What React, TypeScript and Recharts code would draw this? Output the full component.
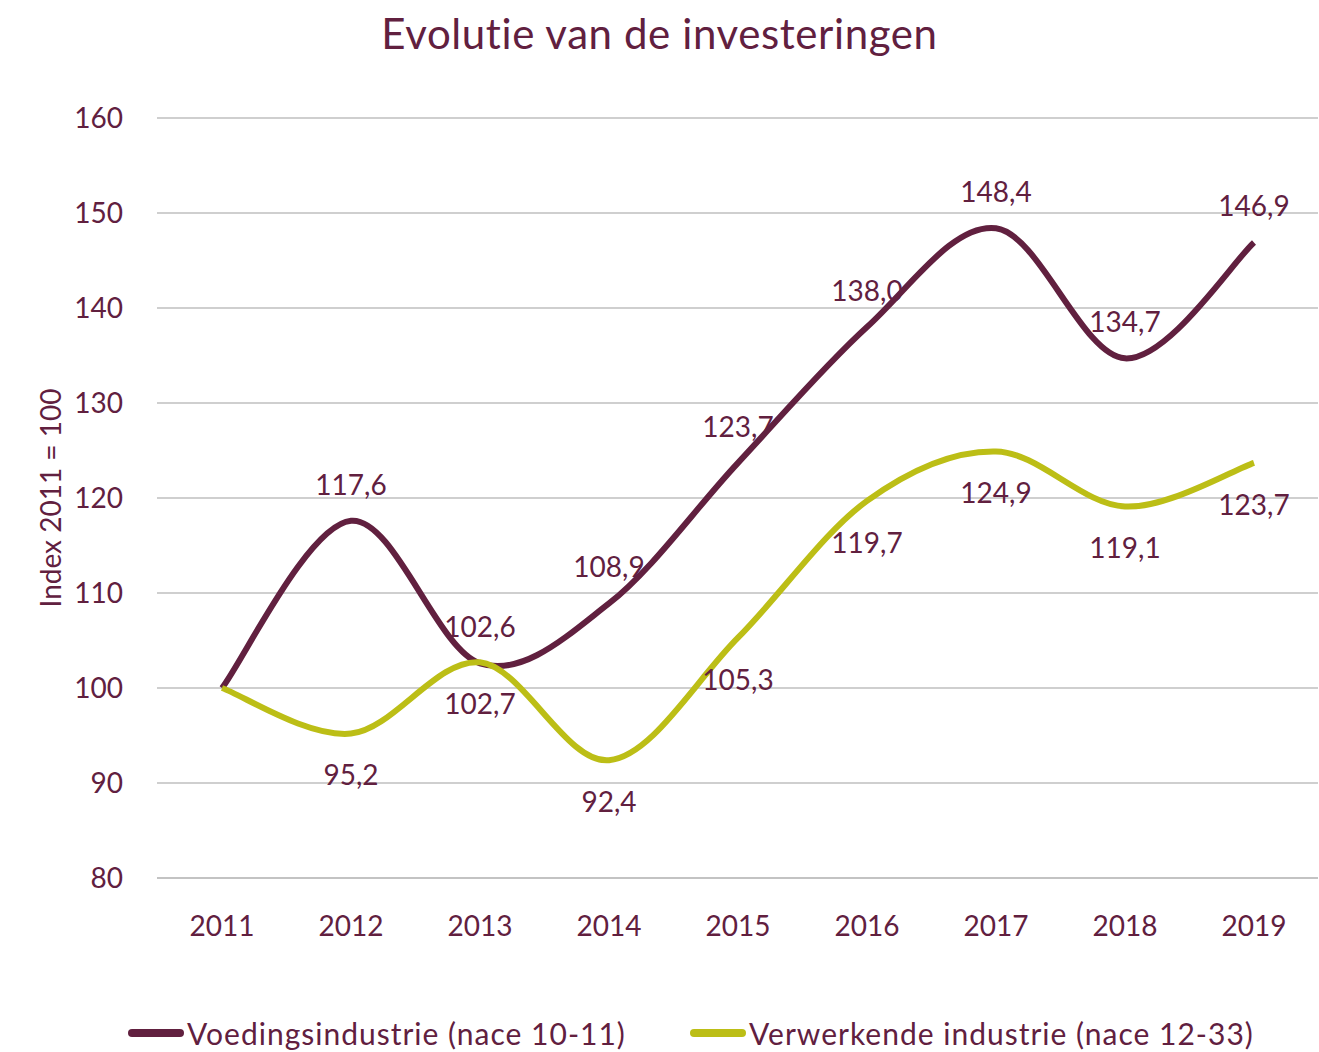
import { LineChart, Line, CartesianGrid, XAxis, YAxis, LabelList, Label } from 'recharts';

const years = ['2011', '2012', '2013', '2014', '2015', '2016', '2017', '2018', '2019'];
const voeding = [100, 117.6, 102.6, 108.9, 123.7, 138.0, 148.4, 134.7, 146.9];
const verwerkende = [100, 95.2, 102.7, 92.4, 105.3, 119.7, 124.9, 119.1, 123.7];
const yTicks = [80, 90, 100, 110, 120, 130, 140, 150, 160];

// the base year carries no data label
const data = years.map((year, i) => ({
  year,
  voeding: voeding[i],
  verwerkende: verwerkende[i],
  voedingLabel: i === 0 ? null : voeding[i],
  verwerkendeLabel: i === 0 ? null : verwerkende[i],
}));

const MAROON = '#61203f';
const LIME = '#bcbe16';
const FONT = 'Lato, "Open Sans", sans-serif';

// Excel-like smoothed line (Catmull-Rom through the points)
function smoothCurve(context: any) {
  let pts: number[][] = [];
  return {
    areaStart() {},
    areaEnd() {},
    lineStart() {
      pts = [];
    },
    point(x: number, y: number) {
      pts.push([+x, +y]);
    },
    lineEnd() {
      if (!pts.length) return;
      context.moveTo(pts[0][0], pts[0][1]);
      for (let i = 0; i < pts.length - 1; i++) {
        const p0 = pts[i - 1] || pts[i];
        const p1 = pts[i];
        const p2 = pts[i + 1];
        const p3 = pts[i + 2] || p2;
        context.bezierCurveTo(
          p1[0] + (p2[0] - p0[0]) / 6,
          p1[1] + (p2[1] - p0[1]) / 6,
          p2[0] - (p3[0] - p1[0]) / 6,
          p2[1] - (p3[1] - p1[1]) / 6,
          p2[0],
          p2[1]
        );
      }
    },
  };
}

const fmt = (v: any) => Number(v).toFixed(1).replace('.', ',');

const legendItems = [
  { label: 'Voedingsindustrie (nace 10-11)', color: MAROON, left: 128 },
  { label: 'Verwerkende industrie (nace 12-33)', color: LIME, left: 690 },
];

export default function App() {
  return (
    <div style={{ position: 'absolute', left: 0, top: 0, width: 1319, height: 1052, background: '#fff' }}>
      <div
        style={{
          position: 'absolute',
          top: 9,
          left: 0,
          width: 1319,
          textAlign: 'center',
          fontFamily: FONT,
          fontSize: 42,
          letterSpacing: 0.6,
          lineHeight: '48px',
          color: MAROON,
        }}
      >
        Evolutie van de investeringen
      </div>
      <LineChart width={1319} height={1052} data={data} margin={{ top: 118, right: 1, bottom: 144, left: 0 }}>
        <CartesianGrid vertical={false} stroke="#bfbfbf" strokeWidth={1.5} />
        <XAxis
          dataKey="year"
          height={30}
          padding={{ left: 65, right: 64 }}
          axisLine={{ stroke: '#bfbfbf', strokeWidth: 1.5 }}
          tickLine={false}
          tickSize={0}
          tickMargin={38}
          tick={{ fill: MAROON, fontSize: 28, fontFamily: FONT }}
          interval={0}
        />
        <YAxis
          width={157}
          domain={[80, 160]}
          ticks={yTicks}
          axisLine={false}
          tickLine={false}
          tickSize={0}
          tickMargin={34}
          tick={{ fill: MAROON, fontSize: 28, fontFamily: FONT }}
        >
          <Label
            content={() => (
              <text
                x={50}
                y={498}
                transform="rotate(-90 50 498)"
                textAnchor="middle"
                dominantBaseline="central"
                fill={MAROON}
                fontSize={28}
                fontFamily={FONT}
              >
                Index 2011 = 100
              </text>
            )}
          />
        </YAxis>
        <Line
          dataKey="voeding"
          name="Voedingsindustrie (nace 10-11)"
          type={smoothCurve as any}
          stroke={MAROON}
          strokeWidth={6}
          dot={false}
          activeDot={false}
          isAnimationActive={false}
        >
          <LabelList dataKey="voedingLabel" position="top" offset={26} formatter={fmt} fill={MAROON} fontSize={28} fontFamily={FONT} />
        </Line>
        <Line
          dataKey="verwerkende"
          name="Verwerkende industrie (nace 12-33)"
          type={smoothCurve as any}
          stroke={LIME}
          strokeWidth={6}
          dot={false}
          activeDot={false}
          isAnimationActive={false}
        >
          <LabelList dataKey="verwerkendeLabel" position="bottom" offset={32} formatter={fmt} fill={MAROON} fontSize={28} fontFamily={FONT} />
        </Line>
      </LineChart>
      {legendItems.map((it) => (
        <div
          key={it.label}
          style={{
            position: 'absolute',
            left: it.left,
            top: 1014,
            height: 38,
            display: 'flex',
            alignItems: 'center',
            fontFamily: FONT,
            fontSize: 30,
            letterSpacing: 1,
            color: MAROON,
            whiteSpace: 'nowrap',
          }}
        >
          <svg width={56} height={12} style={{ marginRight: 3 }}>
            <line x1={4} y1={6} x2={52} y2={6} stroke={it.color} strokeWidth={8} strokeLinecap="round" />
          </svg>
          <span>{it.label}</span>
        </div>
      ))}
    </div>
  );
}
